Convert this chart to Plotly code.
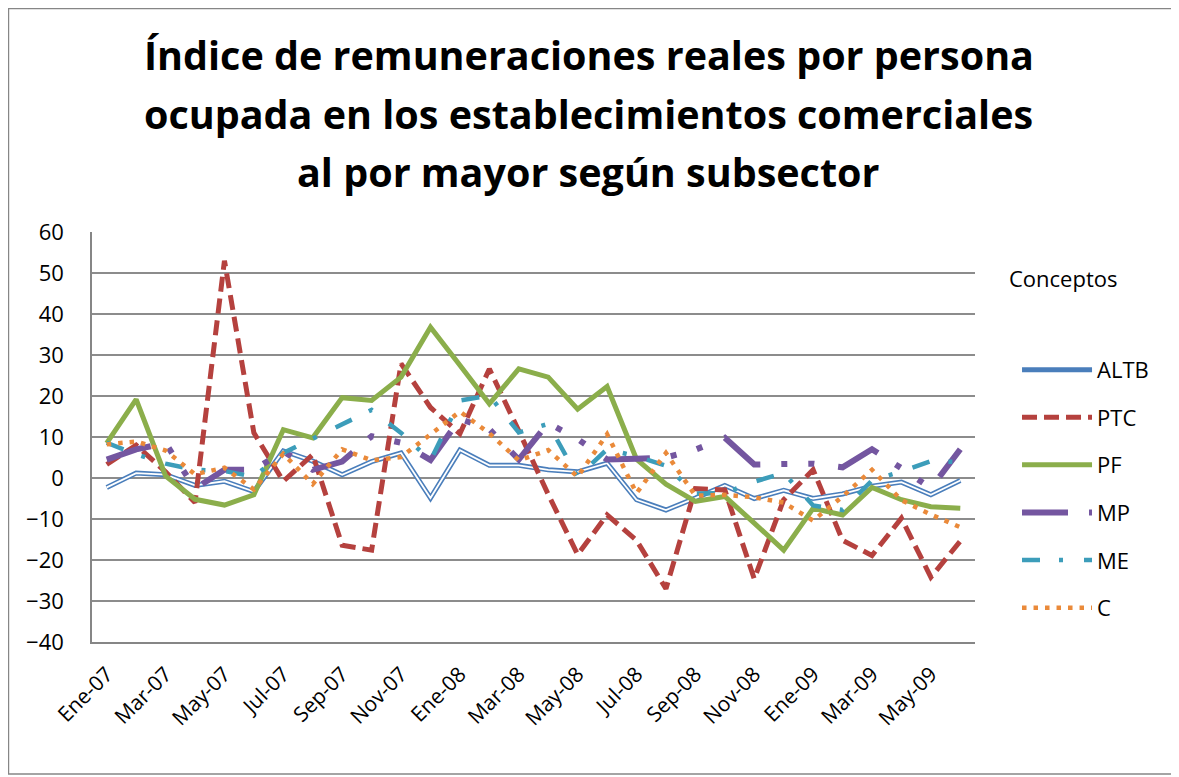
import plotly.graph_objects as go

# ---- data ----
meses = ["Ene-07", "Feb-07", "Mar-07", "Abr-07", "May-07", "Jun-07", "Jul-07", "Ago-07",
         "Sep-07", "Oct-07", "Nov-07", "Dic-07", "Ene-08", "Feb-08", "Mar-08", "Abr-08",
         "May-08", "Jun-08", "Jul-08", "Ago-08", "Sep-08", "Oct-08", "Nov-08", "Dic-08",
         "Ene-09", "Feb-09", "Mar-09", "Abr-09", "May-09", "Jun-09"]

ALTB = [-2.3, 1.2, 0.8, -1.8, -0.8, -3.3, 6.6, 4.1, 0.8, 4.0, 6.1, -4.9, 6.8, 3.1, 3.1,
        2.0, 1.5, 3.6, -5.3, -7.8, -4.9, -1.8, -5.0, -3.0, -5.0, -3.9, -2.0, -1.0, -4.1, -0.6]
PTC = [3.3, 8.0, 1.5, -6.0, 53.0, 11.0, -0.8, 5.7, -16.4, -17.6, 27.9, 17.2, 10.8, 26.6, 11.5,
       -4.0, -18.7, -9.0, -15.2, -27.0, -2.6, -2.9, -24.6, -5.3, 2.0, -15.2, -18.9, -9.8, -24.2, -15.4]
PF = [8.5, 19.2, 0.5, -5.2, -6.6, -4.1, 11.8, 9.8, 19.6, 18.9, 24.6, 36.8, 27.5, 18.1, 26.6,
      24.6, 16.8, 22.3, 4.6, -1.5, -5.7, -4.5, -11.0, -17.6, -7.4, -9.0, -2.3, -5.3, -7.0, -7.4]
MP = [4.5, 7.0, 8.5, -2.6, 2.0, 2.0, 6.5, 2.0, 4.0, 10.2, 8.6, 4.4, 14.4, 11.9, 4.5,
      13.4, 9.5, 4.5, 4.7, 5.0, 6.9, 9.8, 3.3, 3.3, 3.5, 2.6, 7.0, 2.4, -2.5, 7.0]
ME = [8.6, 5.8, 3.5, 2.0, 1.7, 0.3, 6.1, 9.6, 13.1, 16.6, 11.0, 4.3, 18.9, 20.1, 11.1,
      13.2, 0.3, 7.0, 5.3, 3.0, -3.8, -3.7, -0.9, 1.2, -6.7, -7.8, -0.6, 1.6, 4.1, 3.9]
C = [8.2, 8.9, 6.7, 0.9, 2.5, -2.8, 5.9, -1.5, 7.0, 4.3, 5.1, 10.7, 16.2, 10.9, 4.3,
     6.8, 0.3, 10.7, -3.7, 6.1, -4.3, -4.1, -4.7, -6.0, -10.4, -4.5, 2.0, -5.4, -8.9, -12.0]

tick_labels = meses[::2]
y_ticks = list(range(-40, 61, 10))

titulo = ["Índice de remuneraciones reales por persona",
          "ocupada en los establecimientos comerciales",
          "al por mayor según subsector"]

FONT = "'Open Sans', Carlito, Calibri, sans-serif"

fig = go.Figure()

fig.add_trace(go.Scatter(x=meses, y=ALTB, mode="lines", name="ALTB", legendgroup="ALTB",
                         line=dict(color="#4A7EBB", width=5)))
fig.add_trace(go.Scatter(x=meses, y=ALTB, mode="lines", name="ALTB", legendgroup="ALTB",
                         showlegend=False, hoverinfo="skip",
                         line=dict(color="white", width=1.8)))
fig.add_trace(go.Scatter(x=meses, y=PTC, mode="lines", name="PTC", legendgroup="PTC",
                         line=dict(color="#B5413E", width=5, dash="15px,7px")))
fig.add_trace(go.Scatter(x=meses, y=PF, mode="lines", name="PF", legendgroup="PF",
                         line=dict(color="#8BAE4B", width=5)))
fig.add_trace(go.Scatter(x=meses, y=MP, mode="lines", name="MP", legendgroup="MP",
                         line=dict(color="#7456A0", width=6,
                                   dash="46px,21px,6px,21px,6px,24px")))
fig.add_trace(go.Scatter(x=meses, y=ME, mode="lines", name="ME", legendgroup="ME",
                         line=dict(color="#3C9DBA", width=4.5, dash="18px,19px,4px,21px")))
fig.add_trace(go.Scatter(x=meses, y=C, mode="lines", name="C", legendgroup="C",
                         line=dict(color="#EA8A3A", width=4.5, dash="4.5px,7px")))

# title lines as annotations (paper coords: y=0 at -40, y=1 at 60)
for txt, yy in zip(titulo, [1.432, 1.287, 1.147]):
    fig.add_annotation(text=f"<b>{txt}</b>", x=0.5626, y=yy, xref="paper", yref="paper",
                       showarrow=False, xanchor="center", yanchor="middle",
                       font=dict(family=FONT, size=39.5, color="black"))

fig.add_annotation(text="Conceptos", x=1.0362, y=0.887, xref="paper", yref="paper",
                   showarrow=False, xanchor="left", yanchor="middle",
                   font=dict(family=FONT, size=22, color="black"))

# outer chart border
fig.add_shape(type="rect", xref="paper", yref="paper",
              x0=-0.0946, x1=1.2276, y0=-0.322, y1=1.5451,
              line=dict(color="#868686", width=1.5), fillcolor="rgba(0,0,0,0)")

fig.update_layout(
    width=1171, height=769,
    margin=dict(l=84, r=204, t=224, b=135),
    paper_bgcolor="white", plot_bgcolor="white",
    font=dict(family=FONT, size=22, color="black"),
    showlegend=True,
    legend=dict(x=1.0476, y=0.715, xanchor="left", yanchor="top",
                traceorder="grouped", tracegroupgap=16, itemwidth=70,
                font=dict(family=FONT, size=22, color="black"),
                bgcolor="rgba(0,0,0,0)"),
    xaxis=dict(type="category", tickmode="array", tickvals=tick_labels, ticktext=tick_labels,
               tickangle=-45, showgrid=False, showline=True, linecolor="#868686", linewidth=1.5,
               ticks="outside", ticklen=10, tickcolor="rgba(0,0,0,0)",
               tickfont=dict(family=FONT, size=21, color="black"),
               range=[-0.5, 29.5]),
    yaxis=dict(range=[-40, 60], tickmode="array", tickvals=y_ticks, showgrid=True,
               gridcolor="#8C8C8C", gridwidth=1.5, zeroline=False, showline=True,
               linecolor="#868686", linewidth=1.5, ticks="outside", ticklen=22,
               tickcolor="rgba(0,0,0,0)", tickfont=dict(family=FONT, size=22, color="black")),
)

fig.write_html("out.html")
